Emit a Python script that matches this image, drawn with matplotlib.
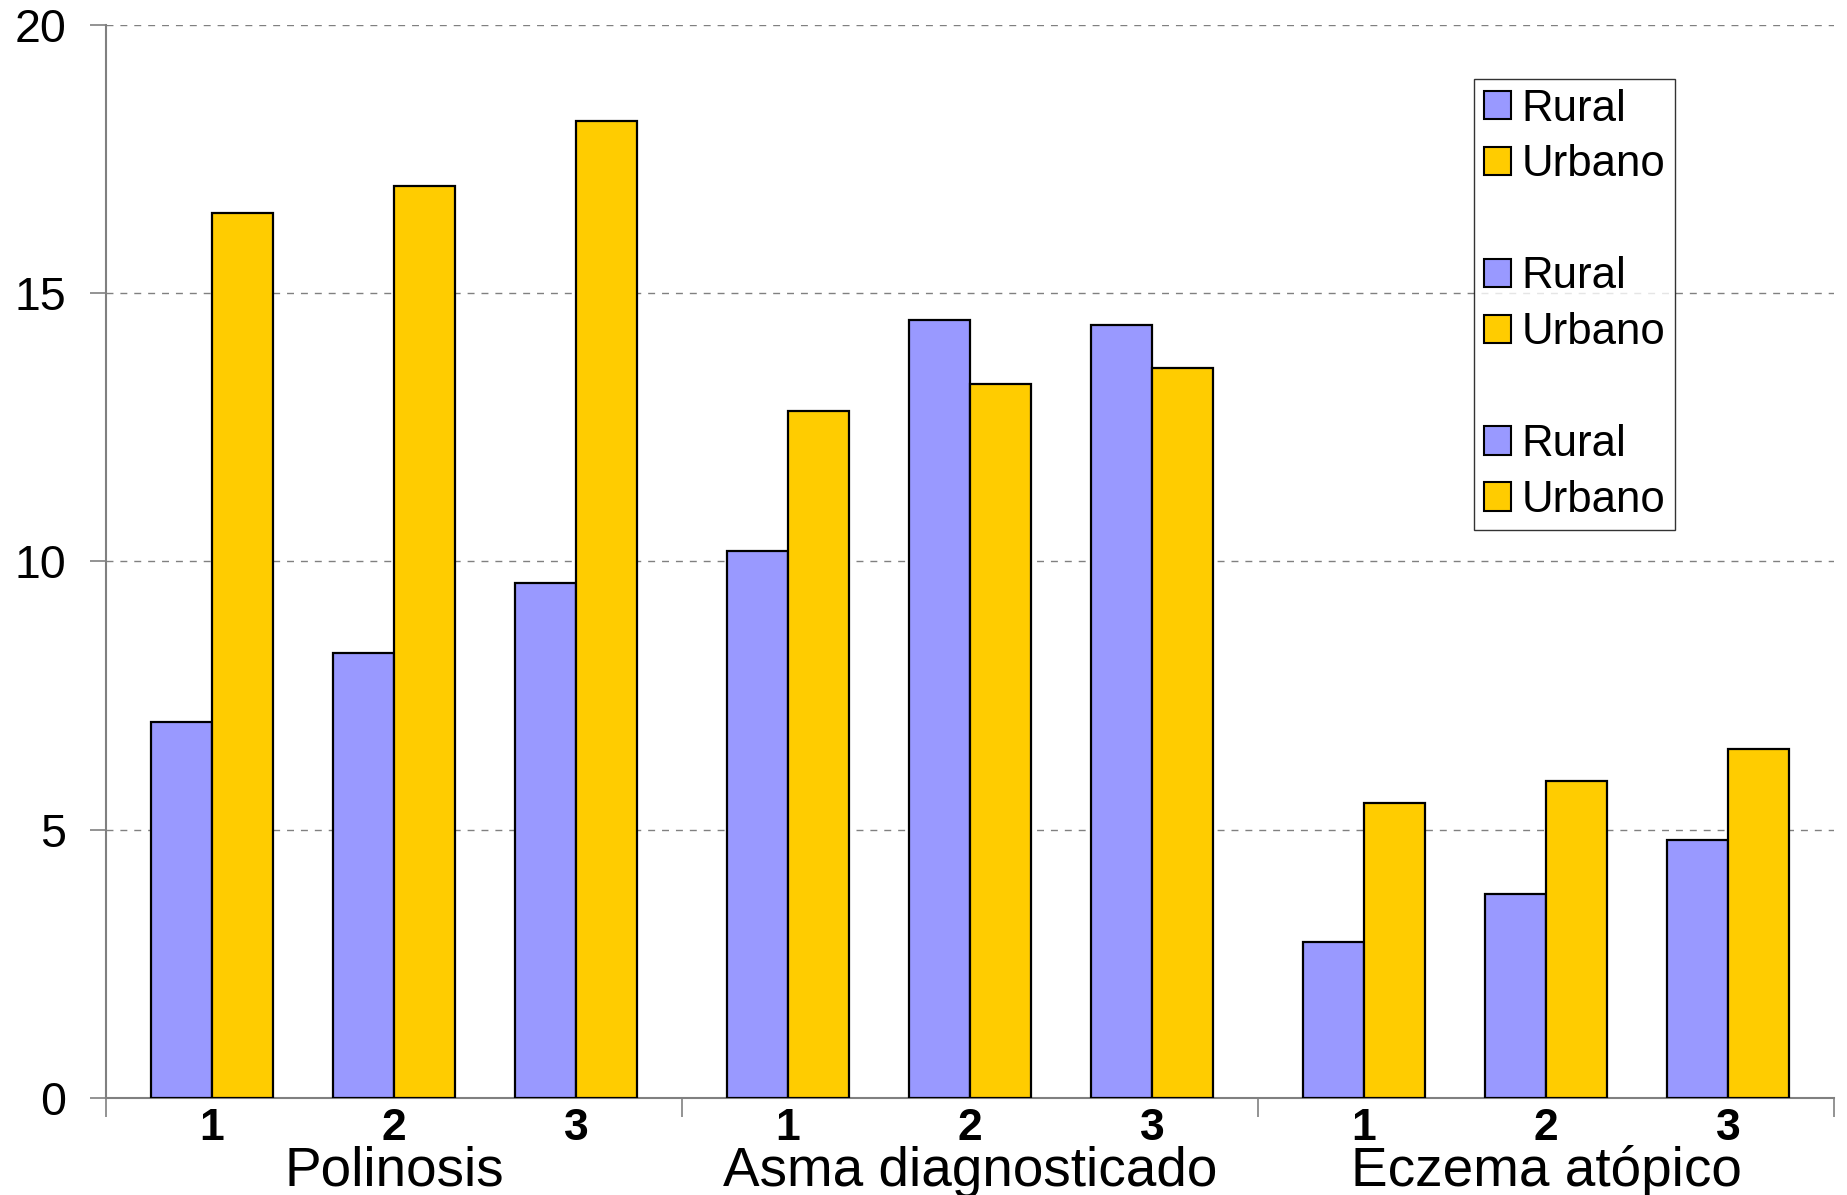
import numpy as np
import matplotlib.pyplot as plt
from matplotlib.patches import Patch
from matplotlib.transforms import blended_transform_factory

plt.rcParams['font.family'] = ['Liberation Sans', 'DejaVu Sans']

# datos
grupos = ['Polinosis', 'Asma diagnosticado', 'Eczema atópico']
subcats = ['1', '2', '3']
rural = [7.0, 8.3, 9.6, 10.2, 14.5, 14.4, 2.9, 3.8, 4.8]
urbano = [16.5, 17.0, 18.2, 12.8, 13.3, 13.6, 5.5, 5.9, 6.5]

color_rural = '#9999FF'
color_urbano = '#FFCC00'

fig = plt.figure(figsize=(18.47, 11.95), dpi=100)
ax = fig.add_axes([106/1847, 1-1098/1195, (1834-106)/1847, (1098-24.7)/1195])

# cada grupo ocupa 3 unidades, subcategorias separadas 0.948
paso = 0.948
ancho = 0.316
centros = []
for g in range(len(grupos)):
    for k in range(len(subcats)):
        centros.append(3*g + 1.5 + (k-1)*paso)
centros = np.array(centros)

ax.bar(centros - ancho/2, rural, ancho, color=color_rural, edgecolor='black', linewidth=1.6, zorder=3)
ax.bar(centros + ancho/2, urbano, ancho, color=color_urbano, edgecolor='black', linewidth=1.6, zorder=3)

ax.set_xlim(0, 9)
ax.set_ylim(0, 20)
ax.set_yticks([0, 5, 10, 15, 20])
ax.tick_params(axis='y', length=11.5, width=1.2, color='#808080', pad=17, labelsize=33.5)
ax.yaxis.grid(True, color='#808080', linestyle=(0, (5, 5)), linewidth=1, zorder=0)

ax.set_xticks(centros)
ax.set_xticklabels(subcats*3, fontsize=32, fontweight='bold')
ax.tick_params(axis='x', which='major', length=0, pad=7)
ax.set_xticks([0, 3, 6, 9], minor=True)
ax.tick_params(axis='x', which='minor', length=14, width=1.2, color='#808080')

for s in ['top', 'right']:
    ax.spines[s].set_visible(False)
for s in ['left', 'bottom']:
    ax.spines[s].set_color('#808080')
    ax.spines[s].set_linewidth(1.5)

trans = blended_transform_factory(ax.transData, fig.transFigure)
for g, nombre in enumerate(grupos):
    ax.text(3*g + 1.5, 1 - 1186/1195, nombre, transform=trans, ha='center', va='baseline', fontsize=39.5)

h_r = Patch(facecolor=color_rural, edgecolor='black', linewidth=1.5)
h_u = Patch(facecolor=color_urbano, edgecolor='black', linewidth=1.5)
h_b = Patch(facecolor='none', edgecolor='none')
handles = [h_r, h_u, h_b, h_r, h_u, h_b, h_r, h_u]
labels = ['Rural', 'Urbano', ' ', 'Rural', 'Urbano', ' ', 'Rural', 'Urbano']
leg = fig.legend(handles, labels, loc='upper left', bbox_to_anchor=(1474/1847, 1-79/1195),
                 borderaxespad=0, fontsize=31.5, frameon=True, fancybox=False,
                 handlelength=0.62, handleheight=0.62, handletextpad=0.25,
                 labelspacing=0.34, borderpad=0.22)
leg.get_frame().set_edgecolor('black')
leg.get_frame().set_linewidth(1.0)

fig.savefig('out.png', dpi=100)
